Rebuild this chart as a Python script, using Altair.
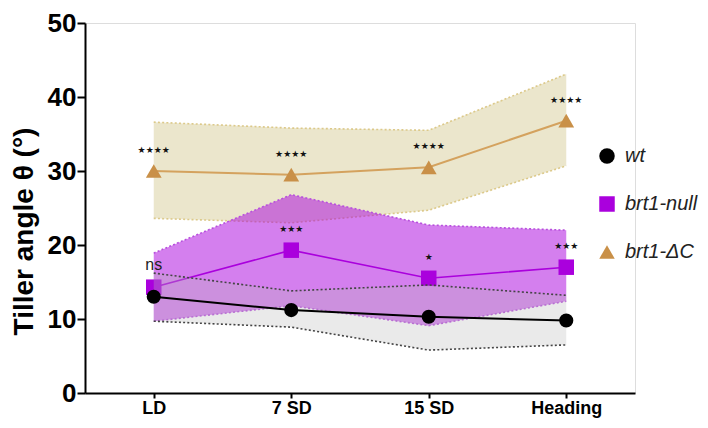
import altair as alt
import pandas as pd

stages = ["LD", "7 SD", "15 SD", "Heading"]
groups = ["wt", "brt1-null", "brt1-ΔC"]

wt_mean = [13.0, 11.2, 10.3, 9.8]
wt_lower = [9.7, 8.9, 5.8, 6.5]
wt_upper = [16.2, 13.8, 14.6, 13.2]

null_mean = [14.3, 19.3, 15.5, 17.0]
null_lower = [9.7, 11.8, 9.1, 12.4]
null_upper = [18.9, 26.8, 22.7, 22.0]

dc_mean = [30.0, 29.5, 30.5, 36.8]
dc_lower = [23.6, 23.0, 24.7, 30.7]
dc_upper = [36.6, 35.8, 35.5, 43.1]

wt_sig = ["", "", "", ""]
null_sig = ["ns", "★★★", "★", "★★★"]
dc_sig = ["★★★★", "★★★★", "★★★★", "★★★★"]

rows = []
for g, m, lo, up, s in [
    ("wt", wt_mean, wt_lower, wt_upper, wt_sig),
    ("brt1-null", null_mean, null_lower, null_upper, null_sig),
    ("brt1-ΔC", dc_mean, dc_lower, dc_upper, dc_sig),
]:
    for i, st in enumerate(stages):
        rows.append({"group": g, "stage": st, "mean": m[i], "lower": lo[i], "upper": up[i], "sig": s[i]})
df = pd.DataFrame(rows)

PURPLE = "#AA00DD"
TAN = "#C99048"
TAN_LINE = "#D4A25E"
TITLE = "Tiller angle θ (°)"

yscale = alt.Scale(domain=[0, 50], nice=False, zero=True)
yaxis = alt.Axis(
    values=[0, 10, 20, 30, 40, 50], grid=False, domainColor="black", domainWidth=2,
    tickColor="black", tickWidth=2, tickSize=8, labelPadding=1,
    labelFont="Liberation Sans", labelFontWeight="bold", labelFontSize=26, labelColor="black",
    titleFont="Liberation Sans", titleFontWeight="bold", titleFontSize=28, titleColor="black",
    titleX=-61, titleY=208, titleAngle=270, titleAlign="center", titleBaseline="middle",
)
xaxis = alt.Axis(
    title=None, labelAngle=0, grid=False, domainColor="black", domainWidth=2,
    tickColor="black", tickWidth=2, tickSize=5, labelPadding=1,
    labelFont="Liberation Sans", labelFontWeight="bold", labelFontSize=18, labelColor="black",
)

def Y(field):
    return alt.Y(field, type="quantitative", scale=yscale, axis=yaxis, title=TITLE)

base = alt.Chart(df).encode(
    x=alt.X("stage:N", sort=stages, scale=alt.Scale(type="point", padding=0.5), axis=xaxis)
)

def sub(g):
    return base.transform_filter(alt.datum.group == g)

def band(g, fill, op):
    return sub(g).mark_area(color=fill, opacity=op).encode(y=Y("lower"), y2="upper")

def edge(g, col, field):
    return sub(g).mark_line(color=col, strokeWidth=1.6, strokeDash=[2, 2.2]).encode(y=Y(field))

def line(g, col, w):
    return sub(g).mark_line(color=col, strokeWidth=w).encode(y=Y("mean"))

color_scale = alt.Scale(domain=groups, range=["black", PURPLE, TAN])
shape_scale = alt.Scale(domain=groups, range=["circle", "square", "triangle-up"])
legend = alt.Legend(
    title=None, orient="none", legendX=512, legendY=123, padding=0,
    labelFont="Liberation Sans", labelFontStyle="italic", labelFontSize=20, labelColor="#222222",
    symbolSize=240, symbolStrokeWidth=0, labelOffset=8, rowPadding=28, labelLimit=200,
)

def pts(g, size):
    return sub(g).mark_point(filled=True, size=size, opacity=1).encode(
        y=Y("mean"),
        color=alt.Color("group:N", scale=color_scale, legend=legend),
        shape=alt.Shape("group:N", scale=shape_scale, legend=legend),
    )

stars = base.transform_filter((alt.datum.sig != "") & (alt.datum.sig != "ns")).mark_text(
    font="DejaVu Sans", fontSize=9, color="#111111", baseline="middle", dy=-21
).encode(y=Y("mean"), text="sig:N")

ns = base.transform_filter(alt.datum.sig == "ns").mark_text(
    font="Liberation Sans", fontSize=16, color="#222222", baseline="middle", dy=-22
).encode(y=Y("mean"), text="sig:N")

chart = alt.layer(
    band("brt1-ΔC", "#D2C78E", 0.45),
    edge("brt1-ΔC", "#DCC98A", "upper"),
    edge("brt1-ΔC", "#DCC98A", "lower"),
    line("brt1-ΔC", TAN_LINE, 2),
    pts("brt1-ΔC", 250),
    band("brt1-null", PURPLE, 0.5),
    edge("brt1-null", "#B850DD", "upper"),
    edge("brt1-null", "#B850DD", "lower"),
    line("brt1-null", PURPLE, 1.6),
    pts("brt1-null", 240),
    band("wt", "#BBBBBB", 0.3),
    edge("wt", "#444444", "upper"),
    edge("wt", "#444444", "lower"),
    line("wt", "black", 2),
    pts("wt", 200),
    stars,
    ns,
).properties(
    width=550, height=370,
    autosize=alt.AutoSizeParams(type="none"),
    padding={"left": 77, "top": 15, "right": 65, "bottom": 26},
).configure_view(stroke=None).configure(background="white")

chart.save("out.html", embed_options={"renderer": "svg", "actions": False})
